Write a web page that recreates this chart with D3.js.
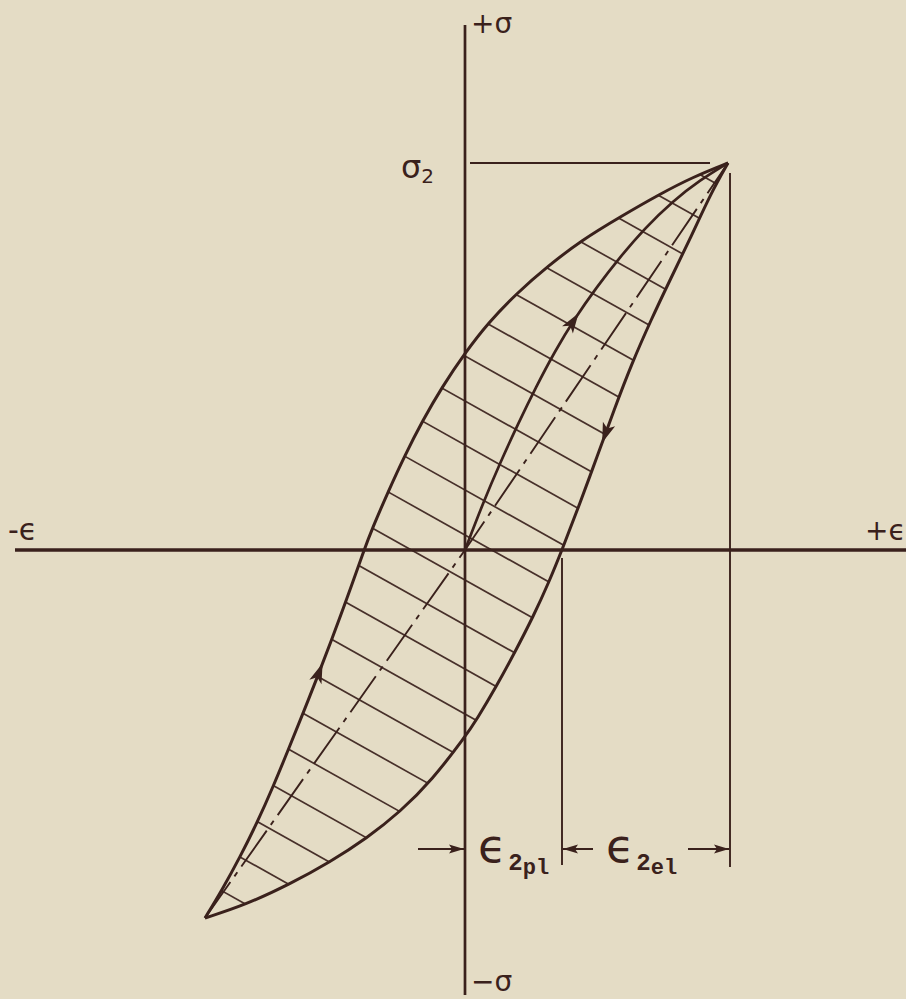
<!DOCTYPE html>
<html><head><meta charset="utf-8">
<script src="https://cdn.jsdelivr.net/npm/d3@7"></script>
<style>html,body{margin:0;padding:0;background:#e4dcc5;} svg{display:block}</style>
</head><body>
<svg id="c" width="906" height="999"></svg>
<script>
// ---------- data (strain ε, stress σ in drawing units) ----------
const loadingBranch = [
  [-2.60,-3.68],[-2.43,-3.40],[-2.25,-3.07],[-2.08,-2.73],[-1.92,-2.37],[-1.76,-1.98],
  [-1.615,-1.62],[-1.48,-1.28],[-1.335,-0.90],[-1.185,-0.50],[-1.01,0.00],[-0.925,0.22],
  [-0.77,0.58],[-0.60,0.95],[-0.42,1.30],[-0.23,1.63],[0.00,1.97],[0.23,2.27],
  [0.52,2.57],[0.83,2.84],[1.17,3.10],[1.55,3.33],[1.95,3.56],[2.28,3.73],[2.63,3.87]
];
const unloadingBranch = [
  [2.63,3.87],[2.46,3.57],[2.26,3.13],[2.05,2.70],[1.86,2.30],[1.67,1.87],[1.49,1.40],
  [1.32,0.93],[1.15,0.47],[0.97,0.00],[0.84,-0.32],[0.68,-0.67],[0.50,-1.02],[0.31,-1.37],
  [0.12,-1.69],[0.00,-1.87],[-0.33,-2.30],[-0.65,-2.62],[-0.98,-2.88],[-1.35,-3.12],
  [-1.75,-3.34],[-2.20,-3.55],[-2.60,-3.68]
];
const initialBranch = [
  [0.00,0.00],[0.18,0.47],[0.355,0.88],[0.53,1.26],[0.71,1.63],[0.90,1.99],[1.10,2.32],
  [1.31,2.62],[1.55,2.93],[1.80,3.22],[2.08,3.49],[2.35,3.70],[2.63,3.87]
];
const secantLine = [[-2.60,-3.68],[0,0],[2.63,3.87]];
const hatchSlope = -0.56;
const hatchIntercepts = [-4.77,-4.33,-3.88,-3.43,-2.98,-2.54,-2.09,-1.64,-1.19,-0.75,-0.30,
  0.15,0.60,1.05,1.49,1.94,2.39,2.84,3.28,3.73,4.18,4.63,5.07];
const peakStress = 3.87;
const peakStrain = 2.63;
const plasticStrain = 0.97;
const arrowOnLoading = [-1.43,-1.13];
const arrowOnUnloading = [1.38,1.07];
const arrowOnInitial = [1.13,2.37];
const axisExtentX = [-4.50, 4.41];
const axisExtentY = [-4.45, 5.25];
const labelNegStrain = "-ϵ", labelPosStrain = "+ϵ", labelPosStress = "+σ", labelNegStress = "−σ";
const labelPeak = ["σ","2"];
const labelPl = ["ϵ","2","pl"];
const labelEl = ["ϵ","2","el"];

// ---------- drawing ----------
const W = 906, H = 999;
const ink = "#3a211c";
const svg = d3.select("#c");
svg.append("rect").attr("width",W).attr("height",H).attr("fill","#e4dcc5");
const x = d3.scaleLinear().domain([-4.65, 4.41]).range([0, 906]);
const y = d3.scaleLinear().domain([-4.49, 5.50]).range([999, 0]);

const line = d3.line().x(d=>x(d[0])).y(d=>y(d[1])).curve(d3.curveBasis);
const straight = d3.line().x(d=>x(d[0])).y(d=>y(d[1]));

// clip region of the loop
const loopD = line(loadingBranch) + line(unloadingBranch).replace(/^M/, "L") + "Z";
svg.append("clipPath").attr("id","loop").append("path").attr("d", loopD);

// hatching
const hatchG = svg.append("g").attr("clip-path","url(#loop)");
hatchG.selectAll("line").data(hatchIntercepts).join("line")
  .attr("x1", x(-3.5)).attr("y1", c => y(c + hatchSlope*-3.5))
  .attr("x2", x(3.5)).attr("y2", c => y(c + hatchSlope*3.5))
  .attr("stroke", ink).attr("stroke-width", 1.7).attr("stroke-opacity",0.92);

// axes
svg.append("line").attr("x1", x(axisExtentX[0])).attr("x2", x(axisExtentX[1]))
  .attr("y1", y(0)).attr("y2", y(0)).attr("stroke", ink).attr("stroke-width", 3.4);
svg.append("line").attr("x1", x(0)).attr("x2", x(0))
  .attr("y1", y(axisExtentY[1])).attr("y2", y(axisExtentY[0])).attr("stroke", ink).attr("stroke-width", 2.7);

// reference lines
svg.append("line").attr("x1", x(0)+5).attr("x2", x(peakStrain)-18)
  .attr("y1", y(peakStress)).attr("y2", y(peakStress)).attr("stroke", ink).attr("stroke-width", 1.9);
svg.append("line").attr("x1", x(peakStrain)+2).attr("x2", x(peakStrain)+2)
  .attr("y1", y(peakStress)+10).attr("y2", 867).attr("stroke", ink).attr("stroke-width", 1.9);
svg.append("line").attr("x1", x(plasticStrain)).attr("x2", x(plasticStrain))
  .attr("y1", y(0)+8).attr("y2", 865).attr("stroke", ink).attr("stroke-width", 1.9);

// secant dash-dot
svg.append("path").attr("d", straight(secantLine)).attr("fill","none")
  .attr("stroke", ink).attr("stroke-width", 1.9).attr("stroke-dasharray","44,7,5,7");

// curves
const pLoad = svg.append("path").attr("d", line(loadingBranch)).attr("fill","none")
  .attr("stroke", ink).attr("stroke-width", 3);
const pUnload = svg.append("path").attr("d", line(unloadingBranch)).attr("fill","none")
  .attr("stroke", ink).attr("stroke-width", 3);
const pInit = svg.append("path").attr("d", line(initialBranch)).attr("fill","none")
  .attr("stroke", ink).attr("stroke-width", 2.7);

// arrowheads along curves
function arrowOn(path, target) {
  const node = path.node(), L = node.getTotalLength();
  const tx = x(target[0]), ty = y(target[1]);
  let best = 0, bd = 1e9;
  for (let l = 0; l <= L; l += 0.5) {
    const p = node.getPointAtLength(l);
    const d = (p.x-tx)**2 + (p.y-ty)**2;
    if (d < bd) { bd = d; best = l; }
  }
  const p = node.getPointAtLength(best);
  const a = node.getPointAtLength(Math.max(0,best-3)), b = node.getPointAtLength(Math.min(L,best+3));
  const ang = Math.atan2(b.y-a.y, b.x-a.x) * 180/Math.PI;
  svg.append("path").attr("d","M0,0 L-20,-6.5 L-15,0 L-20,6.5 Z")
    .attr("transform", `translate(${p.x},${p.y}) rotate(${ang})`).attr("fill", ink);
}
arrowOn(pLoad, arrowOnLoading);
arrowOn(pUnload, arrowOnUnloading);
arrowOn(pInit, arrowOnInitial);

// dimension arrows
const dimY = 849;
function dimArrow(x1, x2) {
  svg.append("line").attr("x1", x1).attr("x2", x2).attr("y1", dimY).attr("y2", dimY)
    .attr("stroke", ink).attr("stroke-width", 2);
  const dir = x2 > x1 ? 0 : 180;
  svg.append("path").attr("d","M0,0 L-15,-4.5 L-12,0 L-15,4.5 Z")
    .attr("transform", `translate(${x2},${dimY}) rotate(${dir})`).attr("fill", ink);
}
dimArrow(x(0)-47, x(0)-1);
dimArrow(x(plasticStrain)+31, x(plasticStrain)+1);
dimArrow(x(peakStrain)-40, x(peakStrain)+1);

// labels
const sans = "DejaVu Sans", mono = "Liberation Mono";
function txt(s, px, py, size, fam, weight) {
  return svg.append("text").attr("x", px).attr("y", py).attr("font-family", fam)
    .attr("font-size", size).attr("font-weight", weight||"normal").attr("fill", ink).text(s);
}
txt(labelNegStrain, x(axisExtentX[0]) - 7, y(0) - 10, 30, sans);
txt(labelPosStrain, W - 41, y(0) - 10, 28, sans);
txt(labelPosStress, x(0) + 6, 33, 28, sans);
txt(labelNegStress, x(0) + 6, 991, 28, sans);

// σ2 label
const tp = svg.append("text").attr("x", x(0) - 64).attr("y", y(peakStress) + 15)
  .attr("font-family", sans).attr("fill", ink);
tp.append("tspan").attr("font-size", 32).text(labelPeak[0]);
tp.append("tspan").attr("font-size", 20).attr("dx", 0).attr("dy", 5).text(labelPeak[1]);

// strain component labels
function strainLabel(parts, px) {
  const t = svg.append("text").attr("x", px).attr("y", 862).attr("fill", ink);
  t.append("tspan").attr("font-family", sans).attr("font-size", 46).text(parts[0]);
  t.append("tspan").attr("font-family", mono).attr("font-weight","bold").attr("font-size", 24)
    .attr("dx", 2).attr("dy", 8).text(parts[1]);
  t.append("tspan").attr("font-family", mono).attr("font-weight","bold").attr("font-size", 22)
    .attr("dy", 4).text(parts[2]);
}
strainLabel(labelPl, x(0) + 13);
strainLabel(labelEl, x(plasticStrain) + 44);
</script>
</body></html>
